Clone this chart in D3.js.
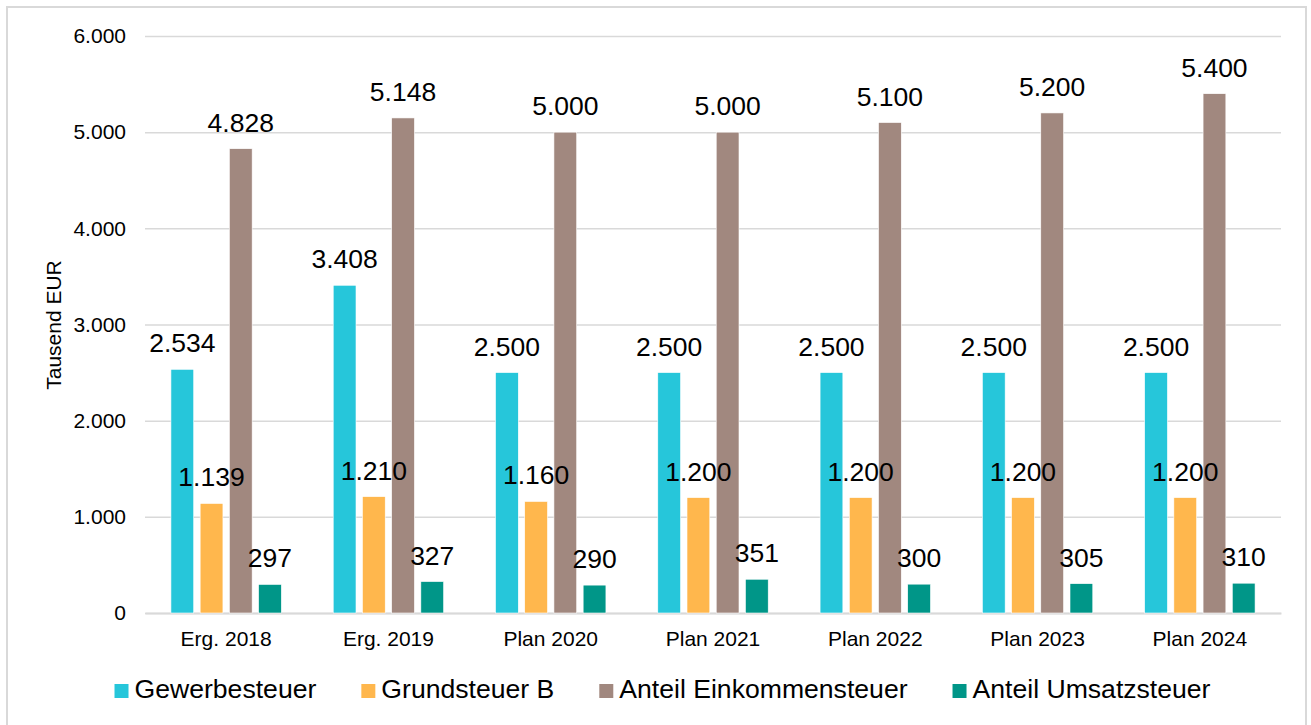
<!DOCTYPE html>
<html>
<head>
<meta charset="utf-8">
<script src="https://cdn.jsdelivr.net/npm/d3@7"></script>
<style>
  html, body { margin: 0; padding: 0; background: #fff; }
  svg { display: block; font-family: "Liberation Sans", Arial, sans-serif; }
</style>
</head>
<body>
<svg id="chart" width="1311" height="725"></svg>
<script>
const categories = ["Erg. 2018", "Erg. 2019", "Plan 2020", "Plan 2021", "Plan 2022", "Plan 2023", "Plan 2024"];
const seriesNames = ["Gewerbesteuer", "Grundsteuer B", "Anteil Einkommensteuer", "Anteil Umsatzsteuer"];
const gewerbesteuer = [2534, 3408, 2500, 2500, 2500, 2500, 2500];
const grundsteuerB = [1139, 1210, 1160, 1200, 1200, 1200, 1200];
const einkommensteuer = [4828, 5148, 5000, 5000, 5100, 5200, 5400];
const umsatzsteuer = [297, 327, 290, 351, 300, 305, 310];
const colors = ["#26C6DA", "#FFB74D", "#A1887F", "#009688"];
const yTicks = [0, 1000, 2000, 3000, 4000, 5000, 6000];
const yTitle = "Tausend EUR";

const seriesValues = [gewerbesteuer, grundsteuerB, einkommensteuer, umsatzsteuer];

const locale = d3.formatLocale({ decimal: ",", thousands: ".", grouping: [3], currency: ["", " €"] });
const fmt = locale.format(",d");

const svg = d3.select("#chart");
const plot = { left: 145, right: 1281, top: 36, bottom: 613 };

// outer border
svg.append("rect")
  .attr("x", 7).attr("y", 7).attr("width", 1299).attr("height", 730)
  .attr("fill", "#fff").attr("stroke", "#d9d9d9").attr("stroke-width", 2);

const y = d3.scaleLinear().domain([0, 6000]).range([plot.bottom, plot.top]);
const x0 = d3.scaleBand().domain(categories).range([plot.left, plot.right])
  .paddingInner(0.28).paddingOuter(0.14);
const x1 = d3.scaleBand().domain(seriesNames).range([0, x0.bandwidth()])
  .paddingInner(0.22).paddingOuter(0.11);
const color = d3.scaleOrdinal().domain(seriesNames).range(colors);

// gridlines
const yAxis = d3.axisLeft(y).tickValues(yTicks).tickSize(-(plot.right - plot.left))
  .tickFormat(d => fmt(d)).tickPadding(19);
const gy = svg.append("g").attr("transform", `translate(${plot.left},0)`).call(yAxis);
gy.select(".domain").remove();
gy.selectAll(".tick line").attr("stroke", "#d9d9d9").attr("stroke-width", 1.5);
gy.selectAll(".tick text").attr("font-size", 21).attr("fill", "#000")
  .attr("font-family", "'Liberation Sans', Arial, sans-serif");

// x axis
const xAxis = d3.axisBottom(x0).tickSize(0).tickPadding(18);
const gx = svg.append("g").attr("transform", `translate(0,${plot.bottom})`).call(xAxis);
gx.select(".domain").attr("stroke", "#d9d9d9").attr("stroke-width", 2);
gx.selectAll(".tick text").attr("font-size", 21).attr("fill", "#000")
  .attr("font-family", "'Liberation Sans', Arial, sans-serif");

// data rows
const rows = [];
categories.forEach((c, i) => {
  seriesNames.forEach((s, j) => rows.push({ cat: c, series: s, value: seriesValues[j][i] }));
});

svg.append("g").selectAll("rect").data(rows).join("rect")
  .attr("x", d => x0(d.cat) + x1(d.series))
  .attr("y", d => y(d.value))
  .attr("width", x1.bandwidth())
  .attr("height", d => y(0) - y(d.value))
  .attr("fill", d => color(d.series))
  .attr("stroke", "#fff").attr("stroke-width", 0.6);

svg.append("g").selectAll("text").data(rows).join("text")
  .attr("x", d => x0(d.cat) + x1(d.series) + x1.bandwidth() / 2)
  .attr("y", d => y(d.value) - 17)
  .attr("text-anchor", "middle")
  .attr("font-size", 26.5)
  .attr("fill", "#000")
  .text(d => fmt(d.value));

// y-axis title
svg.append("text")
  .attr("transform", `translate(61,325) rotate(-90)`)
  .attr("text-anchor", "middle")
  .attr("font-size", 21)
  .attr("fill", "#000")
  .text(yTitle);

// legend
const legend = svg.append("g");
const items = legend.selectAll("g").data(seriesNames).join("g");
items.append("rect").attr("width", 14).attr("height", 14).attr("y", -14)
  .attr("fill", d => color(d));
items.append("text").attr("x", 20).attr("y", 0).attr("font-size", 26.6).attr("fill", "#000")
  .text(d => d);
const widths = [];
items.each(function () {
  const w = 20 + d3.select(this).select("text").node().getComputedTextLength();
  widths.push(w);
});
const gap = 45;
const total = d3.sum(widths) + gap * (widths.length - 1);
const startX = 662.5 - total / 2;
items.attr("transform", (d, i) => {
  const tx = startX + d3.sum(widths.slice(0, i)) + gap * i;
  return `translate(${tx},698)`;
});
</script>
</body>
</html>
